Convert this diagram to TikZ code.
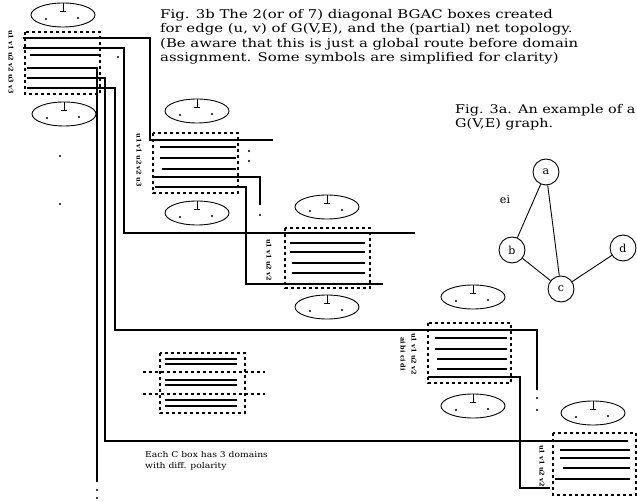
\documentclass[tikz,border=0pt]{standalone}
\usepackage{fontspec}
\setmainfont{DejaVu Serif}
\usetikzlibrary{calc}

\begin{document}
\begin{tikzpicture}[x=1pt, y=-1pt,
    % Define the styles for wires, boxes and terminals
    wire/.style={line width=1.1pt},
    boxline/.style={line width=1.1pt, dash pattern=on 3pt off 3pt},
    term/.style={line width=0.9pt},
    vertex/.style={circle, draw, line width=0.9pt, minimum size=26pt, inner sep=0pt,
        font=\fontsize{11}{12}\selectfont},
    domlbl/.style={rotate=-90, inner sep=0pt, font=\fontsize{6.5}{6.5}\selectfont\bfseries},
    caption/.style={anchor=north west, inner sep=0pt, align=left,
        font=\fontsize{12}{14.5}\selectfont}
]

\useasboundingbox (0,0) rectangle (637,502);

% Draw the terminals above and below the boxes
\foreach \cx/\cy in {63/15, 64/114, 197/111, 197/213, 327/207, 327/307,
                     473/297, 473/406, 593/413}{
    \draw[term] (\cx,\cy) ellipse (32 and 12);
    \draw[term] (\cx,\cy-12) -- (\cx,\cy-4) (\cx-3,\cy-4) -- (\cx+3,\cy-4);
    \fill (\cx-17,\cy+4) circle (1.2) (\cx+15,\cy+3) circle (1.2);
}

% Draw the BGAC boxes
\draw[boxline] (25,32) rectangle (100,94);
\draw[boxline] (153,133) rectangle (238,193);
\draw[boxline] (285,228) rectangle (370,288);
\draw[boxline] (428,323) rectangle (511,383);
\draw[boxline] (553,433) rectangle (636,495);

% Inner lines of the boxes
\draw[wire] (30,55) -- (100,55);
\draw[wire] (160,147) -- (236,147) (160,158) -- (236,158) (162,169) -- (236,169);
\draw[wire] (290,243) -- (365,243) (290,252) -- (365,252)
            (292,263) -- (365,263) (292,273) -- (365,273);
\draw[wire] (435,338) -- (507,338) (435,349) -- (507,349)
            (437,359) -- (507,359) (437,369) -- (507,369);
\draw[wire] (560,450) -- (630,450) (560,458) -- (630,458)
            (563,468) -- (630,468) (555,479) -- (630,479);

% Define the ends of the wires
\coordinate (W1) at (23,38);   \coordinate (E1) at (273,140);
\coordinate (W2) at (23,48);   \coordinate (E2) at (415,233);
\coordinate (W3) at (27,68);   \coordinate (E3) at (97,482);
\coordinate (W4) at (27,78);   \coordinate (E4) at (628,441);
\coordinate (W5) at (27,88);   \coordinate (E5) at (537,390);
\coordinate (W6) at (153,177); \coordinate (E6) at (260,205);
\coordinate (W7) at (155,187); \coordinate (E7) at (383,284);
\coordinate (W8) at (428,377); \coordinate (E8) at (550,488);

% Draw the net topology
\draw[wire] (W1) -| (150,140) -- (E1);
\draw[wire] (W2) -| (124,233) -- (E2);
\draw[wire] (W3) -| (E3);
\draw[wire] (W4) -| (105,441) -- (E4);
\draw[wire] (W5) -| (115,330) -- (537,330) -- (E5);
\draw[wire] (W6) -| (E6);
\draw[wire] (W7) -| (246,284) -- (E7);
\draw[wire] (W8) -| (520,488) -- (E8);

% Dots at the open ends
\fill (97,490) circle (1.2) (97,498) circle (1.2);
\fill (537,398) circle (1.2) (537,410) circle (1.2);
\fill (260,215) circle (1.2) (118,57) circle (1.2);
\fill (249,151) circle (1.2) (249,161) circle (1.2);
\fill (60,156) circle (1.2) (60,204) circle (1.2);

% Domain labels left of the boxes
\node[domlbl] (lab1) at (11,62) {u1 v1 u2 v2 u3 v3};
\node[domlbl] (lab2) at (139,160) {u1 v1 u2 v2 u3};
\node[domlbl] (lab3) at (269,260) {u1 v1 u2 v2};
\node[domlbl] (lab4a) at (403,354) {ai bi ci di};
\node[domlbl] (lab4b) at (414,354) {u1 v1 u2 v2};
\node[domlbl] (lab5) at (542,466) {u1 v1 u2 v2};

% The C box with three domains
\draw[boxline] (160,353) rectangle (245,413);
\draw[boxline] (143,372) -- (265,372) (143,394) -- (265,394);
\draw[wire] (165,359) -- (237,359) (165,364) -- (237,364)
            (165,380) -- (237,380) (165,385) -- (237,385)
            (165,400) -- (237,400) (165,406) -- (237,406);

% The example graph
\node[vertex] (a) at (546,172) {a};
\node[vertex] (b) at (512,250) {b};
\node[vertex] (c) at (561,289) {c};
\node[vertex] (d) at (623,248) {d};
\draw[term] (a) -- (b);
\draw[term] (a) -- (c);
\draw[term] (b) -- (c);
\draw[term] (c) -- (d);
\node[font=\fontsize{11}{12}\selectfont] (ei) at (505,200) {ei};

% Captions
\node[caption] (cap3b) at (160,8) {\scalebox{1.24}[1]{\begin{tabular}{@{}l@{}}
    Fig. 3b The 2(or of 7) diagonal BGAC boxes created\\
    for edge (u, v) of G(V,E), and the (partial) net topology.\\
    (Be aware that this is just a global route before domain\\
    assignment. Some symbols are simplified for clarity)\end{tabular}}};
\node[caption] (cap3a) at (455,103) {\scalebox{1.2}[1]{\begin{tabular}{@{}l@{}}
    Fig. 3a. An example of a\\
    G(V,E) graph.\end{tabular}}};
\node[caption, font=\fontsize{8}{11}\selectfont] (note) at (145,450)
    {\scalebox{1.15}[1]{\begin{tabular}{@{}l@{}}Each C box has 3 domains\\
    with diff. polarity\end{tabular}}};

\end{tikzpicture}
\end{document}
